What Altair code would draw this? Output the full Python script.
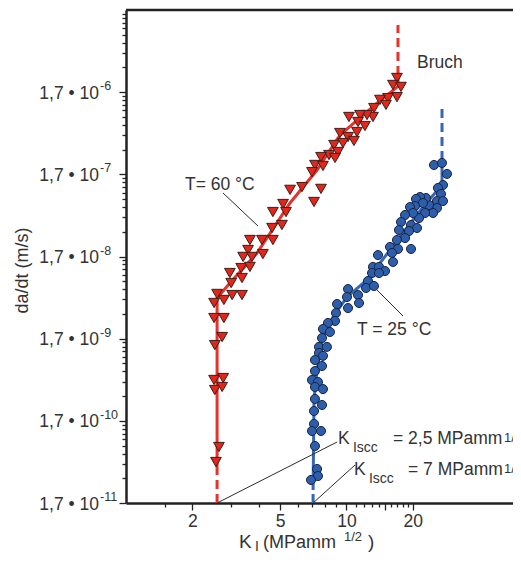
import altair as alt
import pandas as pd

# ---------------- data ----------------
# T = 60 °C  (red, triangles)
red_K = [16.96, 16.27, 17.69, 16.96, 15.44, 14.20, 15.12, 13.34, 13.20, 12.40,
         11.53, 10.27, 11.29, 12.14, 11.17, 10.17, 10.82, 9.35, 8.79, 9.65,
         9.16, 8.34, 8.88, 7.67, 7.20, 7.83, 6.98, 6.29, 5.55, 7.67,
         7.13, 5.16, 5.32, 4.64, 5.10, 4.60, 4.14, 4.64, 4.18, 3.65,
         3.58, 3.40, 3.73, 3.33, 3.65, 2.96, 3.36, 3.00, 2.59, 3.03,
         3.36, 2.51, 2.78, 2.51, 2.78, 2.73, 2.53, 2.51, 2.76, 2.53,
         2.73, 2.64, 2.56]
red_v = [2.53e-6, 2.08e-6, 1.97e-6, 1.48e-6, 1.44e-6, 1.37e-6, 1.19e-6, 1.09e-6, 8.48e-7, 8.96e-7,
         8.96e-7, 8.48e-7, 7.37e-7, 6.58e-7, 5.56e-7, 4.84e-7, 4.33e-7, 5.41e-7, 3.87e-7, 4.09e-7,
         3.18e-7, 2.92e-7, 2.69e-7, 2.76e-7, 2.21e-7, 2.15e-7, 1.81e-7, 1.19e-7, 1.10e-7, 1.13e-7,
         7.83e-8, 7.40e-8, 5.91e-8, 5.91e-8, 4.11e-8, 3.78e-8, 2.70e-8, 2.70e-8, 1.82e-8, 2.70e-8,
         2.04e-8, 1.68e-8, 1.68e-8, 1.23e-8, 1.27e-8, 1.07e-8, 9.30e-9, 8.08e-9, 5.95e-9, 5.77e-9,
         5.77e-9, 4.62e-9, 5.03e-9, 3.03e-9, 3.03e-9, 1.78e-9, 1.42e-9, 5.34e-10, 5.64e-10, 4.03e-10,
         4.39e-10, 8.16e-11, 5.36e-11]

# T = 25 °C  (blue, circles)
blue_K = [24.97, 27.14, 28.60, 27.43, 26.03, 26.86, 25.76, 27.43, 25.76, 24.71,
          23.70, 22.97, 21.58, 20.69, 22.26, 20.48, 19.44, 22.73, 21.35, 20.06,
          18.45, 17.69, 19.64, 20.91, 19.23, 17.32, 18.45, 16.96, 15.77, 17.14,
          16.10, 19.64, 13.91, 16.27, 13.20, 14.06, 14.97, 13.07, 14.06, 12.53,
          12.27, 13.34, 10.17, 10.06, 11.29, 11.41, 10.17, 9.07, 8.97, 8.88,
          8.25, 7.83, 8.42, 7.75, 7.51, 8.16, 7.51, 7.83, 7.20, 7.75,
          7.20, 6.98, 7.43, 7.20, 7.83, 7.20, 7.75, 7.13, 7.13, 6.98,
          7.67, 7.20, 7.36, 7.43, 6.91]
blue_v = [2.21e-7, 2.34e-7, 1.72e-7, 1.26e-7, 1.16e-7, 9.80e-8, 8.04e-8, 8.04e-8, 6.61e-8, 5.75e-8,
          7.20e-8, 8.76e-8, 9.00e-8, 8.52e-8, 7.61e-8, 6.99e-8, 6.80e-8, 5.75e-8, 4.99e-8, 5.75e-8,
          5.44e-8, 4.47e-8, 4.11e-8, 3.78e-8, 3.47e-8, 3.57e-8, 2.85e-8, 2.70e-8, 2.22e-8, 2.10e-8,
          1.88e-8, 2.10e-8, 1.77e-8, 1.46e-8, 1.27e-8, 1.27e-8, 1.13e-8, 1.07e-8, 1.07e-8, 8.56e-9,
          7.04e-9, 7.44e-9, 6.83e-9, 5.46e-9, 5.77e-9, 4.62e-9, 4.01e-9, 4.49e-9, 3.49e-9, 2.79e-9,
          2.64e-9, 2.23e-9, 2.05e-9, 1.73e-9, 1.35e-9, 1.35e-9, 1.14e-9, 1.05e-9, 9.34e-10, 7.90e-10,
          6.86e-10, 5.34e-10, 5.05e-10, 4.39e-10, 4.14e-10, 3.14e-10, 2.65e-10, 2.24e-10, 1.56e-10, 1.28e-10,
          1.28e-10, 8.40e-11, 4.41e-11, 3.62e-11, 3.24e-11]

# fitted curves (solid parts)
red_curve_K = [2.59, 2.59, 2.96, 3.93, 5.55, 7.36, 9.35, 13.77, 17.14, 17.14]
red_curve_v = [4.53e-11, 5.31e-9, 8.09e-9, 1.87e-8, 7.61e-8, 1.92e-7, 5.12e-7, 1.25e-6, 2.0e-6, 2.75e-6]
blue_curve_K = [7.06, 7.13, 7.36, 7.75, 8.69, 10.06, 12.40, 15.77, 22.26, 27.15, 27.15]
blue_curve_v = [2.45e-11, 3.05e-10, 7.06e-10, 1.64e-9, 3.12e-9, 5.46e-9, 8.80e-9, 2.04e-8, 6.80e-8, 1.26e-7, 2.54e-7]

# dashed parts (threshold below, fracture above)
red_dash_low_K, red_dash_low_v = [2.59, 2.59], [1.7e-11, 4.53e-11]
red_dash_top_K, red_dash_top_v = [17.14, 17.14], [2.75e-6, 1.12e-5]
blue_dash_low_K, blue_dash_low_v = [7.06, 7.06], [1.7e-11, 2.45e-11]
blue_dash_top_K, blue_dash_top_v = [27.15, 27.15], [2.54e-7, 1.19e-6]

# leader lines
lead_K1 = [2.755, 13.77, 2.59, 7.06]
lead_v1 = [1.008e-7, 6.645e-9, 1.7e-11, 1.7e-11]
lead_K2 = [3.97, 18.06, 9.07, 10.94]
lead_v2 = [3.994e-8, 3.209e-9, 9.39e-11, 4.93e-11]

# annotation texts
ann_text = ["Bruch", "T= 60 °C", "T = 25 °C", "K", "Iscc", "= 2,5 MPamm", "1/2",
            "K", "Iscc", "= 7 MPamm", "1/2"]
ann_K = [20.91, 1.852, 11.17, 9.16, 10.71, 16.27, 51.9, 10.82, 12.66, 19.03, 51.9]
ann_v = [3.345e-6, 1.095e-7, 1.883e-9, 8.88e-11, 7.10e-11, 8.88e-11, 9.39e-11,
         3.73e-11, 2.98e-11, 3.73e-11, 3.94e-11]
ann_size = [17.5, 17.5, 17.5, 17.5, 14, 17.5, 13, 17.5, 14, 17.5, 13]

# axis ticks and labels
x_tick_values = [1.5, 2, 3, 4, 5, 6, 7, 8, 9, 10, 11, 12, 13, 14, 15, 16, 17, 18, 19, 20]
x_label_values = [2, 5, 10, 20]
x_major_values = [2, 5, 10, 15, 20]
y_exponents = [-11, -10, -9, -8, -7, -6]
y_multipliers = [1, 2, 3, 4, 5, 6, 7, 8, 9]
y_label_values = [1.7e-11, 1.7e-10, 1.7e-9, 1.7e-8, 1.7e-7, 1.7e-6]
y_label_base = ["1,7 • 10"] * 6
y_label_exp = ["-11", "-10", "-9", "-8", "-7", "-6"]

# ---------------- chart ----------------
FONT = "Liberation Sans"
TXT = "#333333"
AX = "#222222"
W, H = 387, 493

y_ticks = []
for e in y_exponents:
    for k in y_multipliers:
        y_ticks.append(float(f"{k * 1.7:.4g}e{e}"))

lg = "(log(datum.value/1.7)/LN10)"
major_test = f"abs({lg} - round({lg})) < 0.01"

xscale = alt.Scale(type="log", domain=[1, 57], nice=False)
yscale = alt.Scale(type="log", domain=[1.7e-11, 1.7e-5], nice=False)

x_axis = alt.Axis(
    values=x_tick_values,
    labelExpr=f"indexof({x_label_values}, datum.value) >= 0 ? '' + datum.value : ''",
    tickSize={"condition": {"test": f"indexof({x_major_values}, datum.value) >= 0", "value": 7}, "value": 4},
    title=None, grid=False, labelOverlap=False, labelFlush=False,
    domainWidth=2.5, domainColor=AX, tickColor=AX, tickWidth=1.3,
    labelFont=FONT, labelFontSize=17.5, labelColor=TXT, labelPadding=2,
)
y_axis = alt.Axis(
    values=y_ticks, labels=False,
    tickSize={"condition": {"test": major_test, "value": 7}, "value": 4},
    title="da/dt (m/s)", titleFont=FONT, titleFontSize=18, titleFontWeight="normal",
    titleColor=TXT, titleX=-95, titleY=260,
    grid=False,
    domainWidth=2.5, domainColor=AX, tickColor=AX, tickWidth=1.3,
)

X = lambda f="K": alt.X(f, type="quantitative", scale=xscale, axis=x_axis)
Y = lambda f="v": alt.Y(f, type="quantitative", scale=yscale, axis=y_axis)


def seg(name, col, Ks, vs):
    return pd.DataFrame({"K": Ks, "v": vs, "seg": name, "col": col, "i": list(range(len(Ks)))})


solid = pd.concat([seg("rs", "r", red_curve_K, red_curve_v),
                   seg("bs", "b", blue_curve_K, blue_curve_v)])
dashed = pd.concat([seg("rd1", "r", red_dash_low_K, red_dash_low_v),
                    seg("rd2", "r", red_dash_top_K, red_dash_top_v),
                    seg("bd1", "b", blue_dash_low_K, blue_dash_low_v),
                    seg("bd2", "b", blue_dash_top_K, blue_dash_top_v)])
col_scale = alt.Scale(domain=["r", "b"], range=["#e4342b", "#3666b8"])

solid_layer = alt.Chart(solid).mark_line(strokeWidth=3).encode(
    x=X(), y=Y(), detail="seg:N", order="i:Q",
    color=alt.Color("col:N", scale=col_scale, legend=None))
dashed_layer = alt.Chart(dashed).mark_line(strokeWidth=3, strokeDash=[9, 5]).encode(
    x=X(), y=Y(), detail="seg:N", order="i:Q",
    color=alt.Color("col:N", scale=col_scale, legend=None))

leaders = pd.DataFrame({"K": lead_K1, "v": lead_v1, "K2": lead_K2, "v2": lead_v2})
leader_layer = alt.Chart(leaders).mark_rule(color="#2a2a2a", strokeWidth=1).encode(
    x=X(), y=Y(), x2="K2", y2="v2")

red_layer = alt.Chart(pd.DataFrame({"K": red_K, "v": red_v})).mark_point(
    shape="triangle-down", filled=True, fill="#e1261c", stroke="#3b1d18",
    strokeWidth=1, size=115, opacity=1).encode(x=X(), y=Y())
blue_layer = alt.Chart(pd.DataFrame({"K": blue_K, "v": blue_v})).mark_point(
    shape="circle", filled=True, fill="#2d5eae", stroke="#1b2438",
    strokeWidth=1, size=82, opacity=1).encode(x=X(), y=Y())

ann = pd.DataFrame({"K": ann_K, "v": ann_v, "t": ann_text, "s": ann_size})
ann_layer = alt.Chart(ann).mark_text(align="left", baseline="alphabetic", font=FONT, color=TXT).encode(
    x=X(), y=Y(), text="t:N", size=alt.Size("s:Q", scale=None, legend=None))

# y tick labels with raised exponent
ylab = pd.DataFrame({"v": y_label_values, "b": y_label_base, "e": y_label_exp})
ylab_base = alt.Chart(ylab).mark_text(
    align="right", baseline="alphabetic", font=FONT, fontSize=17.5, color=TXT, dy=6.5
).encode(x=alt.value(-27), y=Y(), text="b:N")
ylab_exp = alt.Chart(ylab).mark_text(
    align="left", baseline="alphabetic", font=FONT, fontSize=12.5, color=TXT, dy=-2
).encode(x=alt.value(-26), y=Y(), text="e:N")

# top frame line
top_rule = alt.Chart(alt.Data(values=[{}])).mark_rule(color=AX, strokeWidth=2.5).encode(
    x=alt.value(0), x2=alt.value(W), y=alt.value(0))

# x-axis title with subscript / superscript
xt_text = ["K", "I", "(MPamm", "1/2", ")"]
xt_px = [113, 129, 137, 218, 242]
xt_py = [538, 541, 538, 531, 538]
xt_size = [19, 14, 18, 13, 19]
xt_layers = [
    alt.Chart(alt.Data(values=[{}])).mark_text(
        text=t, align="left", baseline="alphabetic", font=FONT, fontSize=s, color=TXT
    ).encode(x=alt.value(px), y=alt.value(py))
    for t, px, py, s in zip(xt_text, xt_px, xt_py, xt_size)
]

chart = alt.layer(
    solid_layer, dashed_layer, leader_layer, red_layer, blue_layer, ann_layer,
    ylab_base, ylab_exp, top_rule, *xt_layers
).properties(
    width=W, height=H,
    autosize=alt.AutoSizeParams(type="none"),
    padding={"left": 118, "top": 2, "right": 0, "bottom": 51},
).configure_view(stroke=None)

chart.save("out.html", embed_options={"renderer": "svg", "actions": False})
